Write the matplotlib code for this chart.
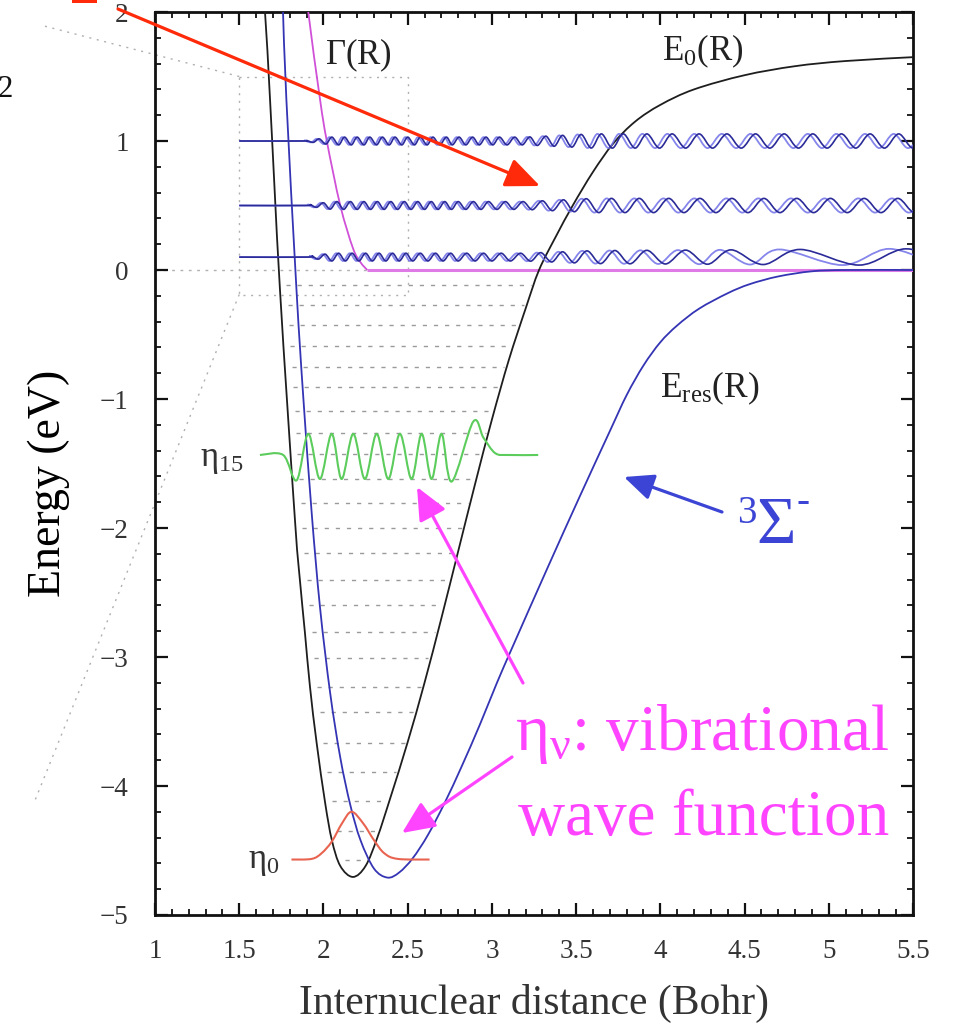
import numpy as np
import matplotlib
matplotlib.use("Agg")
import matplotlib.pyplot as plt
from matplotlib.path import Path
from matplotlib.patches import PathPatch, FancyArrowPatch, Rectangle

plt.rcParams['font.family'] = ['Liberation Serif', 'DejaVu Serif']
plt.rcParams['mathtext.fontset'] = 'custom'
plt.rcParams['mathtext.rm'] = 'Liberation Serif'
plt.rcParams['mathtext.it'] = 'Liberation Serif'
plt.rcParams['mathtext.bf'] = 'Liberation Serif:bold'

# ---------------- data ----------------
# E0(R) : black potential curve
e0_R = [1.60, 1.653, 1.683, 1.742, 1.831, 1.86, 1.89, 1.92, 1.96, 2.01, 2.05, 2.10, 2.175,
        2.25, 2.32, 2.40, 2.50, 2.60, 2.70, 2.80, 2.90, 3.00, 3.10, 3.20, 3.28, 3.38,
        3.48, 3.60, 3.72, 3.85, 4.00, 4.20, 4.50, 4.80, 5.10, 5.50]
e0_E = [3.0, 2.0, 1.32, -0.155, -1.94, -2.40, -2.81, -3.23, -3.67, -4.13, -4.42, -4.62, -4.705,
        -4.62, -4.40, -4.08, -3.66, -3.20, -2.70, -2.18, -1.66, -1.16, -0.70, -0.30, 0.0, 0.26,
        0.50, 0.76, 0.98, 1.15, 1.28, 1.40, 1.51, 1.58, 1.62, 1.65]
# Eres(R) : blue resonance curve
er_R = [1.75, 1.76, 1.78, 1.84, 1.88, 1.93, 1.98, 2.04, 2.10, 2.16, 2.22, 2.30, 2.38, 2.45,
        2.53, 2.62, 2.72, 2.82, 2.93, 3.03, 3.13, 3.33, 3.52, 3.70, 3.80, 3.90, 4.00, 4.10,
        4.23, 4.40, 4.53, 4.70, 4.90, 5.10, 5.50]
er_E = [2.3, 2.0, 1.32, -0.155, -0.98, -1.88, -2.62, -3.28, -3.78, -4.15, -4.42, -4.64, -4.71,
        -4.67, -4.56, -4.38, -4.13, -3.85, -3.52, -3.20, -2.90, -2.31, -1.76, -1.25, -0.97,
        -0.74, -0.56, -0.43, -0.30, -0.18, -0.11, -0.05, -0.01, 0.0, 0.0]
# Gamma(R) : magenta width
g_R = [1.89, 1.91, 1.98, 2.02, 2.10, 2.175, 2.22, 2.26]
g_E = [2.3, 2.0, 1.32, 1.0, 0.5, 0.17, 0.06, 0.0]
g_flat_R = [2.26, 5.5]
g_flat_E = [0.0, 0.0]

# vibrational levels (dotted)
levels_E = [-0.12, -0.27, -0.43, -0.59, -0.75, -0.91, -1.09, -1.26, -1.43, -1.62, -1.81, -2.00,
            -2.19, -2.40, -2.60, -2.81, -3.01, -3.23, -3.43, -3.67, -3.89, -4.12, -4.35, -4.57]

# eta_15 (green) : extrema and tails
eta15_R = [1.623, 1.761, 1.841, 1.910, 1.979, 2.049, 2.108, 2.177, 2.246, 2.316, 2.385, 2.454,
           2.523, 2.583, 2.642, 2.701, 2.761, 2.889, 2.95, 3.02, 3.10, 3.275]
eta15_E = [-1.434, -1.434, -1.63, -1.27, -1.62, -1.27, -1.62, -1.27, -1.62, -1.27, -1.62, -1.27,
           -1.62, -1.27, -1.62, -1.27, -1.64, -1.176, -1.30, -1.42, -1.434, -1.434]
# eta_0 (red gaussian)
eta0_R = [1.81, 1.93, 1.99, 2.05, 2.11, 2.167, 2.236, 2.30, 2.36, 2.44, 2.63]
eta0_E = [-4.57, -4.565, -4.52, -4.43, -4.29, -4.20, -4.29, -4.42, -4.52, -4.565, -4.57]

# continuum wave functions: baseline energy, extrema positions, amplitude envelope
cont_E = [1.0, 0.5, 0.1]
w10_ext = [1.90, 1.94, 1.975, 2.015, 2.05, 2.09, 2.125, 2.165, 2.20, 2.24, 2.275, 2.315, 2.35,
           2.39, 2.425, 2.465, 2.50, 2.54, 2.575, 2.615, 2.65, 2.69, 2.73, 2.765, 2.805, 2.845,
           2.885, 2.925, 2.965, 3.005, 3.045, 3.09, 3.135, 3.18, 3.225, 3.27, 3.32, 3.37, 3.42,
           3.475, 3.53, 3.59, 3.65, 3.715, 3.78, 3.85, 3.92, 3.995, 4.07, 4.15, 4.23, 4.31,
           4.395, 4.48, 4.565, 4.65, 4.735, 4.82, 4.905, 4.99, 5.075, 5.16, 5.245, 5.33, 5.415,
           5.50, 5.585]
w05_ext = [1.92, 1.96, 2.0, 2.04, 2.08, 2.12, 2.16, 2.20, 2.24, 2.28, 2.32, 2.36, 2.40, 2.44,
           2.48, 2.52, 2.56, 2.60, 2.64, 2.68, 2.72, 2.76, 2.80, 2.845, 2.89, 2.935, 2.98, 3.03,
           3.08, 3.13, 3.185, 3.24, 3.30, 3.36, 3.425, 3.49, 3.56, 3.635, 3.71, 3.79, 3.875,
           3.96, 4.05, 4.14, 4.235, 4.33, 4.425, 4.52, 4.615, 4.71, 4.81, 4.91, 5.01, 5.11,
           5.21, 5.31, 5.41, 5.51, 5.61]
w01_ext = [1.93, 1.97, 2.01, 2.05, 2.09, 2.13, 2.17, 2.21, 2.25, 2.29, 2.33, 2.37, 2.41, 2.45,
           2.49, 2.53, 2.575, 2.62, 2.665, 2.71, 2.755, 2.80, 2.85, 2.90, 2.95, 3.0, 3.055, 3.11,
           3.17, 3.23, 3.29, 3.355, 3.42, 3.49, 3.565, 3.645, 3.73, 3.82, 3.92, 4.03, 4.15,
           4.28, 4.42, 4.61, 4.83, 5.18, 5.46, 5.75]
env_R = [1.88, 1.95, 2.05, 3.2, 3.6, 5.6]
env10_A = [0.0, 0.012, 0.03, 0.03, 0.055, 0.055]
env05_A = [0.0, 0.012, 0.03, 0.03, 0.055, 0.055]
env01_A = [0.0, 0.012, 0.03, 0.03, 0.05, 0.065]

xticks = [1, 1.5, 2, 2.5, 3, 3.5, 4, 4.5, 5, 5.5]
xtick_labels = ['1', '1.5', '2', '2.5', '3', '3.5', '4', '4.5', '5', '5.5']
yticks = [-5, -4, -3, -2, -1, 0, 1, 2]
ytick_labels = ['\u22125', '\u22124', '\u22123', '\u22122', '\u22121', '0', '1', '2']

# ---------------- figure ----------------
W, H = 957, 1029
fig = plt.figure(figsize=(W / 100, H / 100), dpi=100)
L, R_, T, B = 155, 913, 12, 915
ax = fig.add_axes([L / W, 1 - B / H, (R_ - L) / W, (B - T) / H])
ax.set_xlim(1, 5.5)
ax.set_ylim(-5, 2)


def fx(x, y):
    return (x / W, 1 - y / H)


def smooth(xs, ys, **kw):
    xs = np.asarray(xs, float)
    ys = np.asarray(ys, float)
    n = len(xs)
    verts = [(xs[0], ys[0])]
    codes = [Path.MOVETO]
    for i in range(n - 1):
        p0 = np.array([xs[max(i - 1, 0)], ys[max(i - 1, 0)]])
        p1 = np.array([xs[i], ys[i]])
        p2 = np.array([xs[i + 1], ys[i + 1]])
        p3 = np.array([xs[min(i + 2, n - 1)], ys[min(i + 2, n - 1)]])
        c1 = p1 + (p2 - p0) / 6
        c2 = p2 - (p3 - p1) / 6
        verts += [tuple(c1), tuple(c2), tuple(p2)]
        codes += [Path.CURVE4] * 3
    ax.add_patch(PathPatch(Path(verts, codes), fill=False, **kw))


# vibrational levels between the walls of E0
e0R = np.array(e0_R)
e0E = np.array(e0_E)
imin = int(np.argmin(e0E))
for E in levels_E:
    rl = np.interp(E, e0E[:imin + 1][::-1], e0R[:imin + 1][::-1]) + 0.04
    rr = np.interp(E, e0E[imin:], e0R[imin:]) - 0.015
    ax.plot([rl, rr], [E, E], color='#9a9a9a', lw=1.0, ls=(0, (3, 5)), zorder=1)

# zoom box and E=0 dotted guide
box_c = '#b0b0b0'
ax.plot([1.5, 2.5, 2.5, 1.5, 1.5], [1.5, 1.5, -0.19, -0.19, 1.5], color=box_c, lw=1.0,
        ls=(0, (1.5, 4)), zorder=1)
ax.plot([1.0, 2.26], [0.0, 0.0], color=box_c, lw=1.0, ls=(0, (2, 4)), zorder=1)
ax.plot([1.5, 0.317], [1.5, 1.90], color=box_c, lw=1.0, ls=(0, (1.5, 4)), clip_on=False, zorder=1)
ax.plot([1.5, 0.288], [-0.19, -4.11], color=box_c, lw=1.0, ls=(0, (1.5, 4)), clip_on=False, zorder=1)

# curves
smooth(e0_R, e0_E, edgecolor='#1e1e1e', lw=1.3, zorder=4)
smooth(er_R, er_E, edgecolor='#3434b4', lw=1.3, zorder=4)
smooth(g_R, g_E, edgecolor='#d050d8', lw=1.3, zorder=4)
ax.plot(g_flat_R, g_flat_E, color='#e07ae6', lw=2.2, zorder=3, solid_capstyle='butt')

# continuum waves
waves = [(cont_E[0], w10_ext, env10_A), (cont_E[1], w05_ext, env05_A), (cont_E[2], w01_ext, env01_A)]
for base, ext, envA in waves:
    ext = np.asarray(ext, float)
    amp = np.interp(ext, env_R, envA)
    sign = np.where(np.arange(len(ext)) % 2 == 0, 1.0, -1.0)
    sp = np.diff(ext, append=ext[-1] + (ext[-1] - ext[-2]))
    for shift, col, lw, al in [(-0.35, '#7070e8', 1.3, 0.85), (0.0, '#2a2a98', 1.2, 1.0)]:
        xs = np.concatenate([[1.5, ext[0] - 0.03], ext + shift * sp])
        ys = np.concatenate([[base, base], base + sign * amp])
        smooth(xs, ys, edgecolor=col, lw=lw, alpha=al, zorder=5)

# bound wave functions
smooth(eta15_R, eta15_E, edgecolor='#5ccc5c', lw=1.5, zorder=6)
smooth(eta0_R, eta0_E, edgecolor='#e86450', lw=1.5, zorder=6)

# axes styling
for s in ax.spines.values():
    s.set_linewidth(2.0)
    s.set_color('#111111')
ax.set_xticks(xticks)
ax.set_xticklabels(xtick_labels)
ax.set_yticks(yticks)
ax.set_yticklabels(ytick_labels)
ax.set_xticks(np.arange(1.0, 5.51, 0.1), minor=True)
ax.set_yticks(np.arange(-5.0, 2.01, 0.2), minor=True)
ax.tick_params(which='both', direction='in', top=True, right=True, colors='#111111',
               labelcolor='#333333', width=1.6)
ax.tick_params(which='major', length=9, labelsize=19.5)
ax.tick_params(axis='x', which='major', pad=17)
ax.tick_params(axis='y', which='major', pad=19)
ax.tick_params(which='minor', length=4.5, width=1.3)

ax.set_ylabel('Energy (eV)', fontsize=33, color='#000000')
ax.yaxis.set_label_coords(-0.112, 0.478)
ax.set_xlabel('Internuclear distance (Bohr)', fontsize=30, color='#333333')
ax.xaxis.set_label_coords(0.5, -0.0764)

# in-plot labels
fig.text(*fx(325, 64), r'$\Gamma$(R)', fontsize=25, color='#222222', va='baseline')
fig.text(*fx(662, 60), r'E$_0$(R)', fontsize=25, color='#222222', va='baseline')
fig.text(*fx(660, 397), r'E$_{\rm res}$(R)', fontsize=25.5, color='#222222', va='baseline')
fig.text(*fx(200, 466), r'$\eta_{15}$', fontsize=25, color='#333333', va='baseline')
fig.text(*fx(248, 868), r'$\eta_{0}$', fontsize=25, color='#333333', va='baseline')

blue = '#3b44d4'
fig.text(*fx(737, 523), '3', fontsize=28, color=blue, va='baseline')
fig.text(*fx(756, 543), '\u03a3', fontsize=49, color=blue, va='baseline')
fig.text(*fx(796, 512), '-', fontsize=28, color=blue, va='baseline')

mag = '#ff44ff'
fig.text(*fx(515, 750), r'$\eta_{\nu}$: vibrational', fontsize=47, color=mag, va='baseline')
fig.text(*fx(518, 835), 'wave function', fontsize=47, color=mag, va='baseline')

# cropped slide remnants
fig.text(*fx(-2, 97), '2', fontsize=22, color='#111111', va='baseline')
fig.add_artist(Rectangle(fx(72, 3), 25 / W, 3 / H, transform=fig.transFigure,
                         color='#ff2a0a', lw=0))


def arrow(tail, tip, col, lw, hl, hw):
    a = FancyArrowPatch(fx(*tail), fx(*tip), transform=fig.transFigure,
                        arrowstyle='-|>,head_length=%g,head_width=%g' % (hl, hw),
                        mutation_scale=1, color=col, lw=lw, shrinkA=0, shrinkB=0, zorder=10)
    fig.add_artist(a)


arrow((118, 9), (540, 186), '#ff2a0a', 2.3, 21, 9)
arrow((722, 512), (624, 477), blue, 2.3, 18, 8)
arrow((523, 683), (417, 487), mag, 2.3, 20, 9)
arrow((512, 757), (402, 833), mag, 2.3, 20, 9)

fig.savefig('out.png', dpi=100)
